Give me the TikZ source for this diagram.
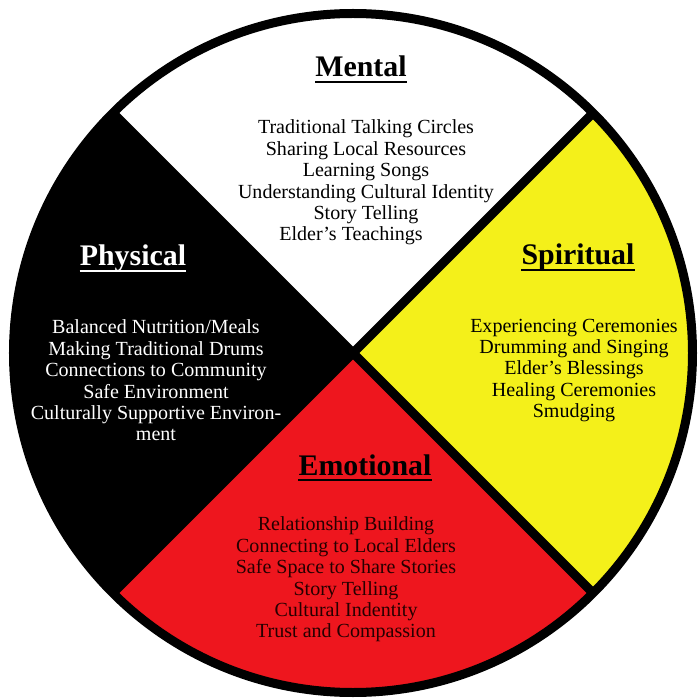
\documentclass[tikz,border=0pt]{standalone}
\usepackage{fontspec}
\setmainfont{Liberation Serif}
\definecolor{wheelyellow}{RGB}{244,240,26}
\definecolor{wheelred}{RGB}{238,22,30}

\begin{document}
\begin{tikzpicture}
\tikzstyle{Heading}=[font = \fontsize{17}{18}\selectfont\bfseries,
                     inner sep = 0pt,
                     anchor = base]
\tikzstyle{ItemList}=[font = \fontsize{11.4}{12.2}\selectfont,
                      align = center,
                      inner sep = 0pt]
\tikzstyle{Rim}=[line width = 0.18cm, black]
\useasboundingbox (-7.06,-6.94) rectangle (6.94,7.06);
\coordinate (hub) at (0,0);
\fill[white] (hub) -- (45:6.79) arc (45:135:6.79) -- cycle;
\fill[black] (hub) -- (135:6.79) arc (135:225:6.79) -- cycle;
\fill[wheelred] (hub) -- (225:6.79) arc (225:315:6.79) -- cycle;
\fill[wheelyellow] (hub) -- (-45:6.79) arc (-45:45:6.79) -- cycle;
\draw[Rim] (45:6.79) -- (hub) -- (225:6.79);
\draw[Rim] (135:6.79) -- (hub) -- (-45:6.79);
\draw[Rim] (hub) circle (6.79);
\node[Heading] (mental) at (0.16,5.53) {Mental};
\node[Heading, text = white] (physical) at (-4.40,1.74) {Physical};
\node[Heading] (spiritual) at (4.50,1.76) {Spiritual};
\node[Heading] (emotional) at (0.24,-2.44) {Emotional};
\foreach \h/\c in {mental/black, physical/white, spiritual/black, emotional/black}
  \draw[\c, line width = 1.3pt] ([yshift=-3pt]\h.base west) -- ([yshift=-3pt]\h.base east);
\node[ItemList] (mentallist) at (0.26,3.41) {Traditional Talking Circles\\ Sharing Local Resources\\ Learning Songs\\ Understanding Cultural Identity\\ Story Telling\\ Elder’s Teachings\hspace*{0.6cm}};
\node[ItemList, text = white] (physicallist) at (-3.94,-0.55) {Balanced Nutrition/Meals\\ Making Traditional Drums\\ Connections to Community\\ Safe Environment\\ Culturally Supportive Environ-\\ ment};
\node[ItemList] (spirituallist) at (4.42,-0.35) {Experiencing Ceremonies\\ Drumming and Singing\\ Elder’s Blessings\\ Healing Ceremonies\\ Smudging};
\node[ItemList, text = black!85!red] (emotionallist) at (-0.14,-4.53) {Relationship Building\\ Connecting to Local Elders\\ Safe Space to Share Stories\\ Story Telling\\ Cultural Indentity\\ Trust and Compassion};
\end{tikzpicture}
\end{document}
